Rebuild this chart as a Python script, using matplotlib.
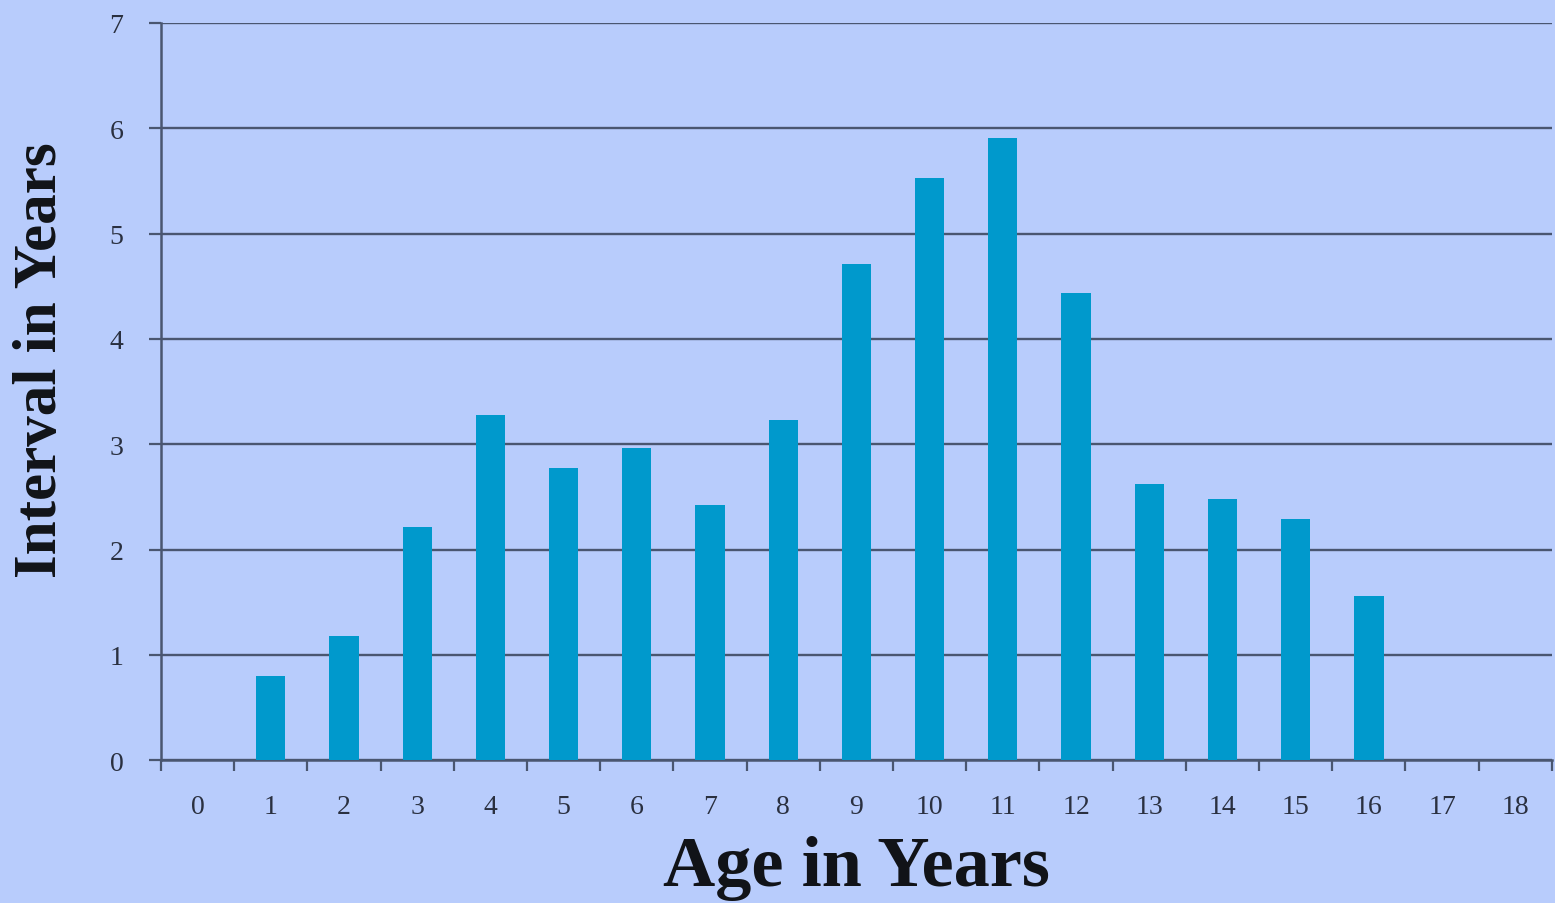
import matplotlib
matplotlib.use('Agg')
import matplotlib.pyplot as plt
import numpy as np

# ages and mean interval per age
ages = list(range(19))
interval = [0, 0.80, 1.18, 2.21, 3.28, 2.77, 2.96, 2.42, 3.23, 4.71,
            5.53, 5.91, 4.44, 2.62, 2.48, 2.29, 1.56, 0, 0]
y_ticks = [0, 1, 2, 3, 4, 5, 6, 7]

bg = '#B8CCFC'
bar_color = '#0099CC'
line_color = '#4A5670'
text_color = '#2A3040'

plt.rcParams['font.family'] = ['Liberation Serif', 'DejaVu Serif']

fig = plt.figure(figsize=(15.55, 9.04), dpi=100, facecolor=bg)
ax = fig.add_axes([0.1035, 0.158, 0.8945, 0.8155], facecolor=bg)

x = np.arange(len(ages))
ax.bar(x, interval, width=0.4, color=bar_color, zorder=3)

ax.set_xlim(-0.5, len(ages) - 0.5)
ax.set_ylim(0, 7)

# gridlines
ax.set_yticks(y_ticks)
ax.yaxis.grid(True, color=line_color, linewidth=1.7, zorder=1)
ax.set_axisbelow(True)

# x tick labels in category centres, tick marks on boundaries
ax.set_xticks(x)
ax.set_xticklabels([str(a) for a in ages])
ax.set_xticks(np.arange(-0.5, len(ages)), minor=True)
ax.tick_params(axis='x', which='major', length=0, pad=24,
               labelsize=20, labelcolor=text_color)
ax.tick_params(axis='x', which='minor', length=8, width=1.6,
               color=line_color, direction='out')
ax.tick_params(axis='y', length=9, width=1.6, color=line_color,
               pad=18, labelsize=20, labelcolor=text_color)

for side in ['top', 'right']:
    ax.spines[side].set_visible(False)
for side in ['left', 'bottom']:
    ax.spines[side].set_color(line_color)
    ax.spines[side].set_linewidth(1.8)

ax.set_xlabel('Age in Years', fontsize=52, fontweight='bold',
              color='#111318', labelpad=12)
ax.set_ylabel('Interval in Years', fontsize=44, fontweight='bold',
              color='#111318')
ax.yaxis.set_label_coords(-0.066, 0.544)

fig.savefig('out.png', dpi=100, facecolor=bg)
